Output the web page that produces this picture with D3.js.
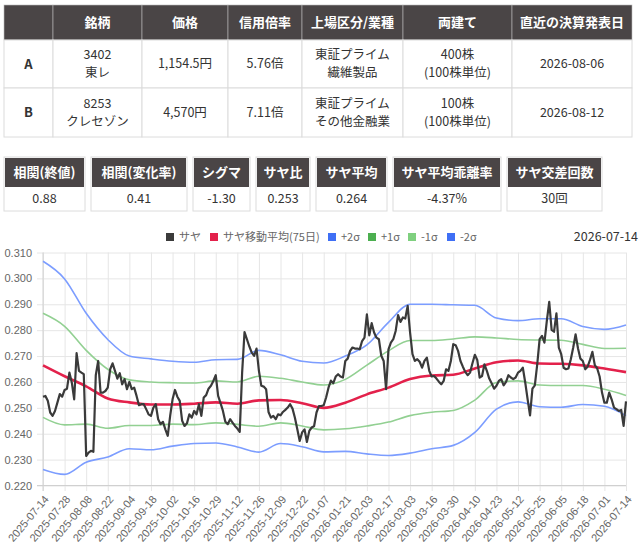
<!DOCTYPE html>
<html><head><meta charset="utf-8">
<script src="https://cdn.jsdelivr.net/npm/d3@7"></script>
<style>
body{margin:0;background:#fff;}
svg text{font-family:"Noto Sans CJK JP","Noto Sans",sans-serif;}
</style></head>
<body>
<script>
// ---- Data ----
const headerCols = ["", "銘柄", "価格", "信用倍率", "上場区分/業種", "両建て", "直近の決算発表日"];
const rowA = ["A", ["3402", "東レ"], ["1,154.5円"], ["5.76倍"], ["東証プライム", "繊維製品"], ["400株", "(100株単位)"], ["2026-08-06"]];
const rowB = ["B", ["8253", "クレセゾン"], ["4,570円"], ["7.11倍"], ["東証プライム", "その他金融業"], ["100株", "(100株単位)"], ["2026-08-12"]];
const statNames = ["相関(終値)", "相関(変化率)", "シグマ", "サヤ比", "サヤ平均", "サヤ平均乖離率", "サヤ交差回数"];
const statValues = ["0.88", "0.41", "-1.30", "0.253", "0.264", "-4.37%", "30回"];
const legendNames = ["サヤ", "サヤ移動平均(75日)", "+2σ", "+1σ", "-1σ", "-2σ"];
const lastDate = "2026-07-14";
const tickLabels = ["2025-07-14","2025-07-28","2025-08-08","2025-08-22","2025-09-04","2025-09-18","2025-10-02","2025-10-16","2025-10-29","2025-11-12","2025-11-26","2025-12-09","2025-12-22","2026-01-07","2026-01-21","2026-02-03","2026-02-17","2026-03-03","2026-03-16","2026-03-30","2026-04-10","2026-04-23","2026-05-12","2026-05-25","2026-06-05","2026-06-18","2026-07-01","2026-07-14"];
const tickStep = 9; // trading days between labelled dates
const yTicks = [0.22,0.23,0.24,0.25,0.26,0.27,0.28,0.29,0.30,0.31];
// daily spread (サヤ)
const saya = [
0.2543,0.2546,0.2527,0.2482,0.2469,0.2488,0.2520,0.2553,0.2543,0.2569,
0.2574,0.2636,0.2598,0.2533,0.2711,0.2643,0.2636,0.2630,0.2314,0.2327,
0.2334,0.2330,0.2626,0.2681,0.2559,0.2559,0.2565,0.2578,0.2649,0.2672,
0.2643,0.2613,0.2634,0.2591,0.2611,0.2572,0.2600,0.2572,0.2578,0.2546,
0.2510,0.2514,0.2514,0.2495,0.2475,0.2469,0.2501,0.2514,0.2456,0.2437,
0.2446,0.2417,0.2392,0.2469,0.2533,0.2569,0.2543,0.2527,0.2450,0.2430,
0.2440,0.2475,0.2462,0.2488,0.2475,0.2514,0.2469,0.2540,0.2549,0.2574,
0.2585,0.2604,0.2626,0.2546,0.2518,0.2488,0.2446,0.2437,0.2456,0.2443,
0.2430,0.2420,0.2407,0.2636,0.2793,0.2765,0.2737,0.2713,0.2701,0.2729,
0.2643,0.2585,0.2582,0.2572,0.2484,0.2462,0.2469,0.2456,0.2475,0.2471,
0.2484,0.2492,0.2501,0.2514,0.2497,0.2462,0.2417,0.2372,0.2405,0.2417,
0.2368,0.2411,0.2424,0.2430,0.2482,0.2507,0.2507,0.2510,0.2540,0.2578,
0.2605,0.2595,0.2621,0.2630,0.2621,0.2617,0.2681,0.2690,0.2720,0.2733,
0.2729,0.2729,0.2726,0.2758,0.2771,0.2861,0.2780,0.2827,0.2791,0.2771,
0.2765,0.2701,0.2681,0.2572,0.2726,0.2752,0.2765,0.2797,0.2858,0.2832,
0.2849,0.2845,0.2894,0.2791,0.2707,0.2681,0.2688,0.2678,0.2655,0.2681,
0.2694,0.2643,0.2621,0.2623,0.2613,0.2601,0.2591,0.2604,0.2649,0.2643,
0.2681,0.2746,0.2742,0.2720,0.2681,0.2659,0.2639,0.2626,0.2636,0.2672,
0.2705,0.2685,0.2617,0.2623,0.2668,0.2643,0.2613,0.2595,0.2574,0.2585,
0.2604,0.2611,0.2587,0.2600,0.2626,0.2617,0.2611,0.2617,0.2636,0.2643,
0.2655,0.2598,0.2533,0.2471,0.2574,0.2587,0.2668,0.2765,0.2778,0.2752,
0.2836,0.2909,0.2801,0.2794,0.2865,0.2733,0.2707,0.2655,0.2649,0.2652,
0.2688,0.2733,0.2784,0.2729,0.2690,0.2681,0.2649,0.2659,0.2685,0.2716,
0.2665,0.2652,0.2621,0.2559,0.2520,0.2520,0.2559,0.2533,0.2501,0.2495,
0.2488,0.2492,0.2430,0.2525];
// moving average and sigma bands, sampled on each labelled date
const ma = [0.2664,0.2622,0.2583,0.2536,0.2521,0.2513,0.2513,0.2516,0.2521,0.2516,0.2529,0.2530,0.2518,0.2500,0.2520,0.2552,0.2578,0.2611,0.2625,0.2628,0.2652,0.2676,0.2683,0.2671,0.2670,0.2664,0.2652,0.2638];
const plus2 = [0.3066,0.2998,0.2865,0.2764,0.2700,0.2689,0.2680,0.2676,0.2686,0.2687,0.2722,0.2705,0.2680,0.2673,0.2700,0.2743,0.2830,0.2900,0.2900,0.2898,0.2896,0.2847,0.2837,0.2844,0.2844,0.2814,0.2803,0.2820];
const plus1 = [0.2865,0.2815,0.2722,0.2649,0.2608,0.2600,0.2597,0.2596,0.2604,0.2600,0.2622,0.2614,0.2600,0.2588,0.2610,0.2665,0.2720,0.2760,0.2760,0.2766,0.2774,0.2770,0.2764,0.2762,0.2761,0.2745,0.2729,0.2730];
const minus1 = [0.2463,0.2434,0.2437,0.2421,0.2432,0.2432,0.2437,0.2435,0.2442,0.2436,0.2429,0.2442,0.2430,0.2415,0.2419,0.2430,0.2445,0.2470,0.2483,0.2490,0.2530,0.2598,0.2604,0.2588,0.2586,0.2586,0.2572,0.2548];
const minus2 = [0.2262,0.2243,0.2290,0.2310,0.2342,0.2338,0.2352,0.2362,0.2364,0.2349,0.2329,0.2362,0.2350,0.2330,0.2332,0.2322,0.2316,0.2325,0.2342,0.2355,0.2405,0.2495,0.2523,0.2504,0.2502,0.2513,0.2506,0.2470];

// ---- Drawing ----
const W = 641, H = 552;
const svg = d3.select("body").append("svg").attr("width", W).attr("height", H);
const dark = "#4a4546", border = "#dcdcdc", txt = "#333";

// top table
const colX = [4, 53, 142, 228, 302, 403, 512, 632];
const rowY = [5, 40, 88, 137];
const tbl = svg.append("g");
headerCols.forEach((h, i) => {
  tbl.append("rect").attr("x", colX[i]).attr("y", rowY[0]).attr("width", colX[i+1]-colX[i]).attr("height", rowY[1]-rowY[0])
    .attr("fill", dark).attr("stroke", "#bbb").attr("stroke-width", 0.6);
  tbl.append("text").attr("x", (colX[i]+colX[i+1])/2).attr("y", (rowY[0]+rowY[1])/2).attr("dy", "0.35em")
    .attr("text-anchor", "middle").attr("fill", "#fff").attr("font-size", 13).attr("font-weight", "bold").text(h);
});
[rowA, rowB].forEach((row, r) => {
  const y0 = rowY[r+1], y1 = rowY[r+2], cy = (y0+y1)/2;
  row.forEach((cell, i) => {
    tbl.append("rect").attr("x", colX[i]).attr("y", y0).attr("width", colX[i+1]-colX[i]).attr("height", y1-y0)
      .attr("fill", "#fff").attr("stroke", border).attr("stroke-width", 1);
    const lines = Array.isArray(cell) ? cell : [cell];
    lines.forEach((l, j) => {
      tbl.append("text").attr("x", (colX[i]+colX[i+1])/2).attr("y", cy + (j - (lines.length-1)/2)*18).attr("dy", "0.35em")
        .attr("text-anchor", "middle").attr("fill", txt).attr("font-size", i === 0 ? 13 : 12.5)
        .attr("font-weight", i === 0 ? "bold" : "normal").text(l);
    });
  });
});

// stats boxes
const statX = [[4,85],[91,187],[193,250],[256,310],[316,387],[393,501],[507,602]];
const sg = svg.append("g");
statNames.forEach((n, i) => {
  const [a, b] = statX[i];
  sg.append("rect").attr("x", a).attr("y", 157).attr("width", b-a).attr("height", 54).attr("fill", "#fff").attr("stroke", border);
  sg.append("rect").attr("x", a+1).attr("y", 158).attr("width", b-a-2).attr("height", 29).attr("fill", dark);
  sg.append("text").attr("x", (a+b)/2).attr("y", 172.5).attr("dy", "0.35em").attr("text-anchor", "middle")
    .attr("fill", "#fff").attr("font-size", 13).attr("font-weight", "bold").text(n);
  sg.append("text").attr("x", (a+b)/2).attr("y", 199).attr("dy", "0.35em").attr("text-anchor", "middle")
    .attr("fill", txt).attr("font-size", 12.5).text(statValues[i]);
});

// chart
const x = d3.scaleLinear().domain([0, saya.length - 1]).range([43, 626]);
const y = d3.scaleLinear().domain([0.22, 0.31]).range([485.5, 252.5]);
const g = svg.append("g");
const grid = "#e6e6e6";

const yAxis = d3.axisLeft(y).tickValues(yTicks).tickFormat(d3.format(".3f")).tickSize(-(626 - 37)).tickPadding(5);
const ya = g.append("g").attr("transform", "translate(37,0)").call(yAxis);
ya.select(".domain").remove();
ya.selectAll("line").attr("stroke", grid);
ya.selectAll("text").attr("fill", "#666").attr("font-size", 11).style("font-family", "'Liberation Sans',Arial,sans-serif");

const xTickIdx = tickLabels.map((_, k) => k * tickStep);
const xAxis = d3.axisBottom(x).tickValues(xTickIdx).tickFormat((d, i) => tickLabels[i]).tickSize(-(491 - 252.5)).tickPadding(0);
const xa = g.append("g").attr("transform", "translate(0,491)").call(xAxis);
xa.select(".domain").remove();
xa.selectAll("line").attr("stroke", grid);
xa.selectAll("text").attr("fill", "#666").attr("font-size", 11)
  .style("font-family", "'Liberation Sans',Arial,sans-serif")
  .attr("text-anchor", "end").attr("dy", "0.35em")
  .attr("transform", "translate(3,6) rotate(-50)").attr("y", 0).attr("x", 0);
// axis lines
g.append("line").attr("x1", 43).attr("x2", 43).attr("y1", 252.5).attr("y2", 491).attr("stroke", "#d0d0d0");
g.append("line").attr("x1", 37).attr("x2", 626).attr("y1", 485.5).attr("y2", 485.5).attr("stroke", "#d0d0d0");

const blue = "#7c9dff", green = "#92d092";
const bandLine = d3.line().x((d, i) => x(i * tickStep)).y(d => y(d)).curve(d3.curveMonotoneX);
[[plus2, blue], [plus1, green], [minus1, green], [minus2, blue]].forEach(([arr, c]) => {
  g.append("path").datum(arr).attr("d", bandLine).attr("fill", "none").attr("stroke", c).attr("stroke-width", 1.6);
});
g.append("path").datum(ma).attr("d", bandLine).attr("fill", "none").attr("stroke", "#e3214b").attr("stroke-width", 2.6);
const sayaLine = d3.line().x((d, i) => x(i)).y(d => y(d));
g.append("path").datum(saya).attr("d", sayaLine).attr("fill", "none").attr("stroke", "#3a3a3a").attr("stroke-width", 2.2).attr("stroke-linejoin", "round");

// legend
const legColors = ["#3b3b3b", "#e3214b", "#3f6ff5", "#4caf50", "#7fd07f", "#3f6ff5"];
const legBoxX = [166, 210, 328, 368, 408, 447];
legendNames.forEach((n, i) => {
  g.append("rect").attr("x", legBoxX[i]).attr("y", 233).attr("width", 8).attr("height", 8).attr("fill", legColors[i]);
  g.append("text").attr("x", legBoxX[i] + 13).attr("y", 237).attr("dy", "0.35em").attr("fill", "#666").attr("font-size", 11).text(n);
});
g.append("text").attr("x", 638).attr("y", 237).attr("dy", "0.35em").attr("text-anchor", "end").attr("fill", txt).attr("font-size", 12.5).text(lastDate);
</script>
</body></html>
